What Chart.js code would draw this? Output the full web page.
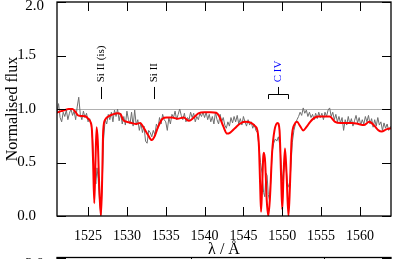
<!DOCTYPE html>
<html>
<head>
<meta charset="utf-8">
<script src="https://cdn.jsdelivr.net/npm/chart.js@4.4.1/dist/chart.umd.min.js"></script>
<style>
  html, body { margin: 0; padding: 0; background: #fff; overflow: hidden; }
  #box { position: relative; width: 393px; height: 259px; overflow: hidden; }
  #top { position: absolute; left: 0; top: 0; }
  #next { position: absolute; left: 0; top: 250px; }
</style>
</head>
<body>
<div id="box">
  <div id="top"><canvas id="spec" width="393" height="259"></canvas></div>
  <div id="next"><canvas id="spec2" width="393" height="120"></canvas></div>
</div>
<script>
// observed spectrum (grey)
const obsWave = [
  1521.0, 1521.2, 1521.4, 1521.6, 1521.8, 1522.0, 1522.2, 1522.4, 1522.6, 1522.8,
  1523.0, 1523.2, 1523.4, 1523.6, 1523.8, 1524.0, 1524.2, 1524.4, 1524.6, 1524.8,
  1525.0, 1525.2, 1525.4, 1525.6, 1525.8, 1526.0, 1526.15, 1526.3, 1526.5, 1526.65,
  1526.8, 1527.0, 1527.2, 1527.4, 1527.6, 1527.8, 1528.0, 1528.2, 1528.4, 1528.6,
  1528.8, 1529.0, 1529.2, 1529.4, 1529.6, 1529.8, 1530.0, 1530.2, 1530.4, 1530.6,
  1530.8, 1531.0, 1531.2, 1531.4, 1531.6, 1531.8, 1532.0, 1532.2, 1532.4, 1532.6,
  1532.8, 1533.0, 1533.2, 1533.4, 1533.6, 1533.8, 1534.0, 1534.2, 1534.4, 1534.6,
  1534.8, 1535.0, 1535.2, 1535.4, 1535.6, 1535.8, 1536.0, 1536.2, 1536.4, 1536.6,
  1536.8, 1537.0, 1537.2, 1537.4, 1537.6, 1537.8, 1538.0, 1538.2, 1538.4, 1538.6,
  1538.8, 1539.0, 1539.2, 1539.4, 1539.6, 1539.8, 1540.0, 1540.2, 1540.4, 1540.6,
  1540.8, 1541.0, 1541.2, 1541.4, 1541.6, 1541.8, 1542.0, 1542.2, 1542.4, 1542.6,
  1542.8, 1543.0, 1543.2, 1543.4, 1543.6, 1543.8, 1544.0, 1544.2, 1544.4, 1544.6,
  1544.8, 1545.0, 1545.2, 1545.4, 1545.6, 1545.8, 1546.0, 1546.2, 1546.4, 1546.6,
  1546.8, 1547.0, 1547.2, 1547.4, 1547.6, 1547.75, 1547.9, 1548.05, 1548.2, 1548.35,
  1548.5, 1548.7, 1548.9, 1549.1, 1549.3, 1549.5, 1549.7, 1549.9, 1550.05, 1550.2,
  1550.35, 1550.5, 1550.65, 1550.8, 1550.95, 1551.1, 1551.3, 1551.5, 1551.7, 1551.9,
  1552.1, 1552.3, 1552.5, 1552.7, 1552.9, 1553.1, 1553.3, 1553.5, 1553.7, 1553.9,
  1554.1, 1554.3, 1554.5, 1554.7, 1554.9, 1555.1, 1555.3, 1555.5, 1555.7, 1555.9,
  1556.1, 1556.3, 1556.5, 1556.7, 1556.9, 1557.1, 1557.3, 1557.5, 1557.7, 1557.9,
  1558.1, 1558.3, 1558.5, 1558.7, 1558.9, 1559.1, 1559.3, 1559.5, 1559.7, 1559.9,
  1560.1, 1560.3, 1560.5, 1560.7, 1560.9, 1561.1, 1561.3, 1561.5, 1561.7, 1561.9,
  1562.1, 1562.3, 1562.5, 1562.7, 1562.9, 1563.1, 1563.3, 1563.5, 1563.7, 1564.0
];
const obsFlux = [
  0.97, 1.05, 0.92, 0.88, 0.97, 0.93, 0.99, 0.90, 0.96, 1.00,
  0.94, 0.98, 0.90, 1.02, 1.11, 0.95, 0.90, 0.98, 0.92, 0.96,
  0.88, 0.91, 0.86, 0.70, 0.42, 0.30, 0.45, 0.35, 0.12, 0.01,
  0.25, 0.72, 0.90, 0.86, 0.95, 0.90, 0.97, 0.88, 0.99, 0.93,
  1.00, 0.89, 0.96, 0.86, 0.93, 0.85, 0.98, 0.90, 0.86, 0.97,
  0.84, 0.99, 0.85, 0.90, 0.80, 0.87, 0.78, 0.84, 0.70, 0.68,
  0.80, 0.78, 0.74, 0.80, 0.76, 0.86, 0.82, 0.92, 0.86, 0.95,
  0.90, 0.88, 0.80, 0.92, 0.86, 0.95, 0.92, 0.98, 0.90, 0.95,
  1.00, 0.94, 0.90, 0.96, 0.88, 0.92, 0.90, 0.97, 0.92, 0.96,
  0.88, 0.93, 0.90, 0.96, 0.93, 0.97, 0.92, 0.97, 0.90, 0.95,
  0.88, 0.93, 0.86, 0.97, 0.90, 0.86, 0.95, 0.88, 0.92, 0.85,
  0.82, 0.88, 0.84, 0.92, 0.87, 0.93, 0.88, 0.94, 0.86, 0.91,
  0.85, 0.93, 0.88, 0.84, 0.90, 0.85, 0.88, 0.82, 0.86, 0.80,
  0.78, 0.65, 0.50, 0.40, 0.22, 0.18, 0.40, 0.38, 0.20, 0.15,
  0.30, 0.60, 0.68, 0.72, 0.70, 0.74, 0.66, 0.45, 0.33, 0.42,
  0.53, 0.45, 0.32, 0.28, 0.26, 0.45, 0.69, 0.80, 0.86, 0.90,
  0.93, 0.97, 0.94, 1.01, 0.96, 0.99, 0.93, 0.97, 0.92, 0.95,
  0.90, 0.96, 0.91, 0.97, 0.92, 0.96, 0.90, 0.97, 0.93, 0.99,
  1.01, 0.93, 0.97, 0.90, 0.95, 0.88, 0.93, 0.87, 0.92, 0.80,
  0.90, 0.85, 0.93, 0.86, 0.91, 0.84, 0.89, 0.94, 0.87, 0.92,
  0.85, 0.90, 0.86, 0.93, 0.88, 0.94, 0.86, 0.91, 0.83, 0.90,
  0.84, 0.92, 0.85, 0.88, 0.80, 0.87, 0.82, 0.86, 0.80, 0.84
];

// model spectrum (red)
const fitWave = [
  1521.0, 1521.5, 1522.0, 1522.5, 1523.0, 1523.4, 1523.7, 1524.2, 1524.7, 1525.0,
  1525.3, 1525.5, 1525.65, 1525.8, 1525.95, 1526.1, 1526.25, 1526.45, 1526.65, 1526.8,
  1526.95, 1527.2, 1527.6, 1528.2, 1528.8, 1529.2, 1529.5, 1530.0, 1530.6, 1531.2,
  1531.7, 1532.2, 1532.7, 1533.2, 1533.6, 1534.0, 1534.6, 1535.1, 1535.8, 1536.5,
  1537.3, 1538.0, 1538.6, 1539.2, 1540.0, 1540.8, 1541.5, 1541.9, 1542.4, 1542.9,
  1543.3, 1543.9, 1544.5, 1545.2, 1546.0, 1546.5, 1546.8, 1547.0, 1547.15, 1547.27,
  1547.4, 1547.55, 1547.65, 1547.8, 1548.0, 1548.2, 1548.4, 1548.7, 1549.0, 1549.4,
  1549.65, 1549.85, 1550.0, 1550.15, 1550.35, 1550.55, 1550.8, 1551.0, 1551.2, 1551.6,
  1551.9, 1552.3, 1552.7, 1553.1, 1553.6, 1554.0, 1554.6, 1555.4, 1556.1, 1556.8,
  1557.5, 1558.3, 1559.0, 1559.8, 1560.5, 1561.2, 1561.9, 1562.4, 1562.8, 1563.4,
  1564.0
];
const fitFlux = [
  0.965, 0.98, 0.99, 1.00, 1.00, 0.97, 0.94, 0.935, 0.93, 0.91,
  0.88, 0.80, 0.50, 0.12, 0.50, 0.83, 0.70, 0.25, 0.00, 0.30,
  0.80, 0.90, 0.93, 0.95, 0.96, 0.95, 0.90, 0.88, 0.87, 0.86,
  0.87, 0.82, 0.76, 0.71, 0.75, 0.83, 0.91, 0.92, 0.92, 0.91,
  0.92, 0.89, 0.92, 0.96, 0.97, 0.97, 0.965, 0.93, 0.84, 0.77,
  0.78, 0.82, 0.86, 0.88, 0.87, 0.84, 0.80, 0.65, 0.30, 0.04,
  0.25, 0.55, 0.59, 0.50, 0.15, 0.00, 0.15, 0.60, 0.80, 0.87,
  0.80, 0.37, 0.06, 0.35, 0.63, 0.40, 0.00, 0.30, 0.71, 0.86,
  0.88, 0.84, 0.80, 0.83, 0.88, 0.91, 0.93, 0.93, 0.93, 0.88,
  0.87, 0.87, 0.87, 0.86, 0.85, 0.88, 0.84, 0.80, 0.79, 0.81,
  0.82
];

const xTicks = [1525, 1530, 1535, 1540, 1545, 1550, 1555, 1560];
const yTicks = [0, 0.5, 1, 1.5, 2];

// line identifications
const lineNames = ['Si II (is)', 'Si II', 'C IV'];
const lineWaves = [[1526.71], [1533.43], [1548.20, 1550.77]];

// next panel (only its top edge shows)
const nextTicks = [10, 20];

const FONT = "'Liberation Serif', 'Times New Roman', serif";

const inwardFrame = {
    id: 'inwardFrame',
    beforeDatasetsDraw(chart) {
        if (!chart.options.plugins.inwardFrame.continuum) return;
        const { ctx, chartArea: a, scales: { y } } = chart;
        const yc = Math.round(y.getPixelForValue(1)) + 0.5;
        ctx.save();
        ctx.strokeStyle = '#b0b0b0';
        ctx.lineWidth = 1;
        ctx.beginPath();
        ctx.moveTo(a.left, yc);
        ctx.lineTo(a.right, yc);
        ctx.stroke();
        ctx.restore();
    },
    afterDraw(chart) {
        const { ctx, chartArea: a, scales: { x, y } } = chart;
        const len = 9;
        const shift = chart.options.plugins.inwardFrame.labelShift || 0;
        ctx.save();
        ctx.strokeStyle = '#000';
        ctx.lineWidth = 1.3;
        ctx.strokeRect(a.left, a.top, a.right - a.left, a.bottom - a.top);
        ctx.lineWidth = 1;
        ctx.beginPath();
        x.ticks.forEach(t => {
            const px = Math.round(x.getPixelForValue(t.value)) + 0.5;
            ctx.moveTo(px, a.bottom); ctx.lineTo(px, a.bottom - len);
            ctx.moveTo(px, a.top); ctx.lineTo(px, a.top + len);
        });
        y.ticks.forEach(t => {
            const py = Math.round(y.getPixelForValue(t.value)) + 0.5;
            ctx.moveTo(a.left, py); ctx.lineTo(a.left + len, py);
            ctx.moveTo(a.right, py); ctx.lineTo(a.right - len, py);
        });
        ctx.stroke();
        // top label sits just below the frame corner
        ctx.fillStyle = '#000';
        ctx.font = `15px ${FONT}`;
        ctx.textAlign = 'right';
        ctx.textBaseline = 'top';
        ctx.fillText('2.0', a.left - 13, y.getPixelForValue(2) - 3 + shift);
        ctx.restore();
    }
};

const lineMarks = {
    id: 'lineMarks',
    afterDatasetsDraw(chart) {
        const { ctx, scales: { x, y } } = chart;
        const yLow = y.getPixelForValue(1.093);
        const yBar = Math.round(y.getPixelForValue(1.14)) + 0.5;
        const yTop = y.getPixelForValue(1.206);
        const yTxt = y.getPixelForValue(1.25);
        ctx.save();
        ctx.lineWidth = 1;
        lineNames.forEach((name, i) => {
            const xs = lineWaves[i].map(w => Math.round(x.getPixelForValue(w)) + 0.5);
            const mid = Math.round((xs[0] + xs[xs.length - 1]) / 2 - 0.5) + 0.5;
            ctx.strokeStyle = '#000';
            ctx.beginPath();
            if (xs.length === 1) {
                ctx.moveTo(mid, yLow); ctx.lineTo(mid, yTop);
            } else {
                ctx.moveTo(xs[0], yLow); ctx.lineTo(xs[0], yBar);
                ctx.lineTo(xs[1], yBar); ctx.lineTo(xs[1], yLow);
                ctx.moveTo(mid, yBar); ctx.lineTo(mid, yTop);
            }
            ctx.stroke();
            ctx.save();
            ctx.fillStyle = name === 'C IV' ? '#0000ff' : '#000';
            ctx.font = `11px ${FONT}`;
            ctx.translate(mid, yTxt);
            ctx.rotate(-Math.PI / 2);
            ctx.textAlign = 'left';
            ctx.textBaseline = 'middle';
            ctx.fillText(name, 0, 0);
            ctx.restore();
        });
        ctx.restore();
    }
};

const obsPoints = obsWave.map((w, i) => ({ x: w, y: obsFlux[i] }));
const fitPoints = fitWave.map((w, i) => ({ x: w, y: fitFlux[i] }));

new Chart(document.getElementById('spec'), {
    type: 'line',
    data: {
        datasets: [
            {
                label: 'model',
                data: fitPoints,
                borderColor: '#ff0000',
                borderWidth: 2,
                cubicInterpolationMode: 'monotone',
                pointRadius: 0
            },
            {
                label: 'observed',
                data: obsPoints,
                borderColor: '#6e6e6e',
                borderWidth: 1,
                tension: 0,
                pointRadius: 0
            }
        ]
    },
    options: {
        responsive: false,
        animation: false,
        layout: { padding: { top: 2, right: 2, left: 0, bottom: 0 } },
        plugins: {
            legend: { display: false },
            tooltip: { enabled: false },
            inwardFrame: { continuum: true, labelShift: 0 }
        },
        scales: {
            x: {
                type: 'linear',
                min: 1521,
                max: 1564,
                grid: { display: false },
                border: { display: false },
                afterBuildTicks: s => { s.ticks = xTicks.map(v => ({ value: v })); },
                afterFit: s => { s.height = 43; s.paddingLeft = 0; s.paddingRight = 0; },
                ticks: {
                    color: '#000',
                    font: { family: FONT, size: 14 },
                    padding: 4,
                    maxRotation: 0,
                    autoSkip: false,
                    callback: v => String(v)
                },
                title: {
                    display: true,
                    text: 'λ / Å',
                    color: '#000',
                    font: { family: FONT, size: 16, lineHeight: 1 },
                    padding: { top: 0, bottom: 1 }
                }
            },
            y: {
                min: 0,
                max: 2,
                grid: { display: false },
                border: { display: false },
                afterBuildTicks: s => { s.ticks = yTicks.map(v => ({ value: v })); },
                afterFit: s => { s.width = 57; s.paddingTop = 0; s.paddingBottom = 0; },
                ticks: {
                    color: '#000',
                    font: { family: FONT, size: 15 },
                    padding: 13,
                    callback: v => (v === 2 ? '' : v.toFixed(1))
                },
                title: {
                    display: true,
                    text: 'Normalised flux',
                    color: '#000',
                    font: { family: FONT, size: 16 },
                    padding: { top: 3, bottom: 0 }
                }
            }
        }
    },
    plugins: [inwardFrame, lineMarks]
});

// the panel below, cut off by the picture edge
new Chart(document.getElementById('spec2'), {
    type: 'line',
    data: { datasets: [] },
    options: {
        responsive: false,
        animation: false,
        layout: { padding: { top: 7.5, right: 2, left: 0, bottom: 0 } },
        plugins: {
            legend: { display: false },
            tooltip: { enabled: false },
            inwardFrame: { continuum: false, labelShift: 2 }
        },
        scales: {
            x: {
                type: 'linear',
                min: 0,
                max: 25,
                grid: { display: false },
                border: { display: false },
                afterBuildTicks: s => { s.ticks = nextTicks.map(v => ({ value: v })); },
                afterFit: s => { s.height = 43; s.paddingLeft = 0; s.paddingRight = 0; },
                ticks: { display: false }
            },
            y: {
                min: 0,
                max: 2,
                grid: { display: false },
                border: { display: false },
                afterBuildTicks: s => { s.ticks = yTicks.map(v => ({ value: v })); },
                afterFit: s => { s.width = 57; s.paddingTop = 0; s.paddingBottom = 0; },
                ticks: {
                    color: '#000',
                    font: { family: FONT, size: 15 },
                    padding: 13,
                    callback: v => (v === 2 ? '' : v.toFixed(1))
                }
            }
        }
    },
    plugins: [inwardFrame]
});
</script>
</body>
</html>
